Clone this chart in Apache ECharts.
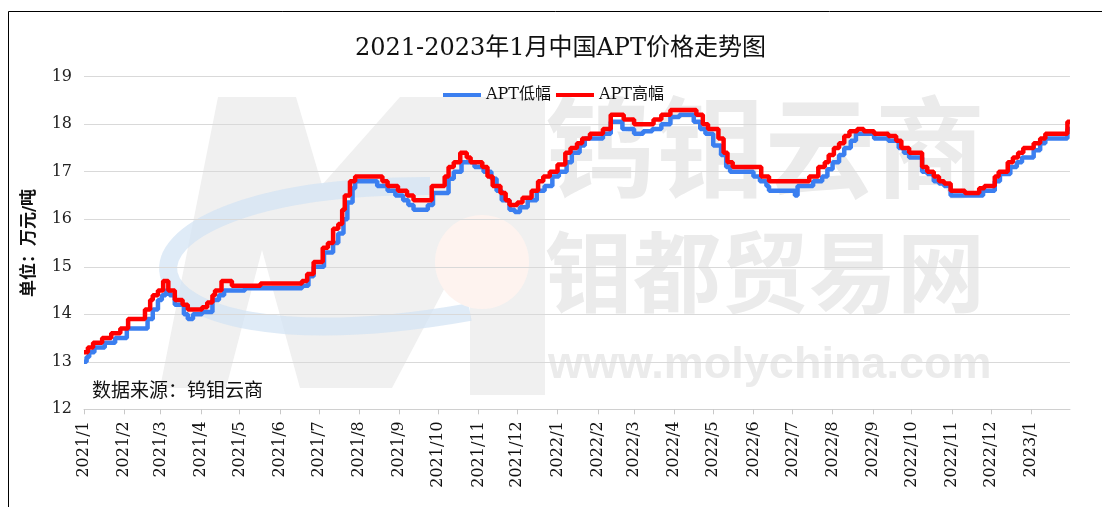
<!DOCTYPE html>
<html><head><meta charset="utf-8">
<script src="https://cdn.jsdelivr.net/npm/echarts@6/dist/echarts.min.js"></script>
<style>html,body{margin:0;padding:0;background:#fff}#c{width:1102px;height:507px}</style>
</head><body><div id="c"></div>
<script>
const chartTitle = '2021-2023年1月中国APT价格走势图';
const seriesNames = ['APT低幅', 'APT高幅'];
const yAxisName = '单位：万元/吨';
const sourceNote = '数据来源：钨钼云商';
const xMin = '2021-01-01';
const xMax = '2023-01-31';
const yMin = 12, yMax = 19, yStep = 1;

const lowDates = ['2021-01-01','2021-01-03','2021-01-05','2021-01-09','2021-01-17','2021-01-25','2021-02-03','2021-02-19','2021-02-23','2021-02-27','2021-03-02','2021-03-05','2021-03-08','2021-03-12','2021-03-19','2021-03-22','2021-03-26','2021-04-02','2021-04-10','2021-04-15','2021-04-19','2021-05-05','2021-06-18','2021-06-23','2021-06-27','2021-07-05','2021-07-12','2021-07-16','2021-07-20','2021-07-23','2021-07-27','2021-07-29','2021-08-15','2021-08-23','2021-08-29','2021-09-04','2021-09-08','2021-09-12','2021-09-23','2021-09-27','2021-10-09','2021-10-13','2021-10-19','2021-10-29','2021-11-05','2021-11-11','2021-11-15','2021-11-19','2021-11-25','2021-11-29','2021-12-03','2021-12-09','2021-12-16','2021-12-22','2021-12-28','2022-01-02','2022-01-08','2022-01-12','2022-01-18','2022-01-22','2022-02-05','2022-02-11','2022-02-20','2022-03-01','2022-03-08','2022-03-15','2022-03-22','2022-03-29','2022-04-05','2022-04-16','2022-04-21','2022-04-25','2022-05-01','2022-05-07','2022-05-11','2022-05-14','2022-06-01','2022-06-06','2022-06-11','2022-06-13','2022-07-03','2022-07-05','2022-07-17','2022-07-24','2022-07-28','2022-08-01','2022-08-06','2022-08-10','2022-08-15','2022-08-19','2022-09-02','2022-09-13','2022-09-21','2022-09-25','2022-09-29','2022-10-09','2022-10-13','2022-10-18','2022-10-22','2022-10-26','2022-10-31','2022-11-25','2022-12-04','2022-12-08','2022-12-16','2022-12-21','2022-12-25','2023-01-03','2023-01-08','2023-01-12','2023-01-29','2023-01-31'];
const lowValues = [13.0,13.1,13.2,13.3,13.4,13.5,13.7,13.9,14.1,14.3,14.4,14.5,14.4,14.2,14.0,13.9,14.0,14.05,14.3,14.4,14.5,14.55,14.6,14.8,15.0,15.3,15.5,15.7,16.0,16.35,16.65,16.8,16.7,16.6,16.5,16.4,16.3,16.2,16.3,16.55,16.85,17.0,17.2,17.1,17.0,16.85,16.6,16.4,16.2,16.15,16.25,16.4,16.6,16.7,16.9,17.0,17.2,17.4,17.55,17.7,17.8,18.05,17.9,17.8,17.85,17.9,18.0,18.15,18.2,18.05,17.9,17.8,17.55,17.35,17.1,17.0,16.9,16.8,16.7,16.6,16.5,16.7,16.8,16.9,17.05,17.2,17.35,17.5,17.65,17.8,17.7,17.65,17.5,17.4,17.3,17.0,16.95,16.8,16.75,16.7,16.5,16.6,16.8,16.95,17.1,17.2,17.3,17.45,17.6,17.7,17.9,17.9];

const highDates = ['2021-01-01','2021-01-04','2021-01-08','2021-01-15','2021-01-22','2021-01-29','2021-02-04','2021-02-17','2021-02-21','2021-02-23','2021-02-27','2021-03-03','2021-03-07','2021-03-12','2021-03-18','2021-03-22','2021-04-02','2021-04-06','2021-04-10','2021-04-12','2021-04-17','2021-04-25','2021-05-17','2021-06-18','2021-06-22','2021-06-27','2021-07-04','2021-07-08','2021-07-12','2021-07-16','2021-07-19','2021-07-21','2021-07-25','2021-07-29','2021-08-19','2021-08-23','2021-08-31','2021-09-07','2021-09-12','2021-09-26','2021-10-06','2021-10-09','2021-10-13','2021-10-18','2021-10-23','2021-10-26','2021-11-04','2021-11-08','2021-11-12','2021-11-18','2021-11-22','2021-11-25','2021-12-01','2021-12-05','2021-12-12','2021-12-17','2021-12-21','2021-12-26','2022-01-01','2022-01-07','2022-01-11','2022-01-16','2022-01-20','2022-01-26','2022-02-05','2022-02-11','2022-02-21','2022-03-01','2022-03-16','2022-03-22','2022-03-29','2022-04-18','2022-04-23','2022-04-27','2022-05-05','2022-05-09','2022-05-12','2022-05-16','2022-06-07','2022-06-13','2022-07-14','2022-07-21','2022-07-26','2022-07-29','2022-08-02','2022-08-06','2022-08-10','2022-08-14','2022-08-20','2022-08-25','2022-09-02','2022-09-13','2022-09-19','2022-09-23','2022-09-29','2022-10-09','2022-10-13','2022-10-18','2022-10-22','2022-10-26','2022-10-31','2022-11-11','2022-11-22','2022-11-26','2022-12-04','2022-12-07','2022-12-14','2022-12-18','2022-12-22','2022-12-26','2023-01-03','2023-01-08','2023-01-12','2023-01-29','2023-01-31'];
const highValues = [13.2,13.3,13.4,13.5,13.6,13.7,13.9,14.1,14.3,14.4,14.5,14.7,14.5,14.3,14.2,14.1,14.15,14.25,14.4,14.5,14.7,14.6,14.65,14.7,14.85,15.1,15.4,15.5,15.8,15.9,16.2,16.5,16.8,16.9,16.8,16.7,16.6,16.5,16.4,16.7,16.9,17.1,17.2,17.4,17.3,17.2,17.1,16.9,16.7,16.55,16.4,16.3,16.35,16.45,16.6,16.8,16.9,17.0,17.15,17.4,17.5,17.6,17.7,17.8,17.9,18.2,18.1,18.0,18.1,18.2,18.3,18.2,18.0,17.9,17.7,17.4,17.2,17.1,16.9,16.8,16.9,17.1,17.2,17.35,17.5,17.6,17.75,17.85,17.9,17.85,17.8,17.75,17.65,17.5,17.4,17.1,17.0,16.9,16.8,16.75,16.6,16.55,16.65,16.7,16.9,17.0,17.2,17.3,17.4,17.5,17.6,17.7,17.8,18.05,18.05];

const pair = (ds, vs) => ds.map((d, i) => [d, vs[i]]);
const SERIF = "'DejaVu Serif','Noto Sans CJK SC',serif";

const chart = echarts.init(document.getElementById('c'), null, {renderer: 'canvas'});
const wmGrey = '#ebebeb';
chart.setOption({
  animation: false,
  backgroundColor: '#fff',
  title: {
    text: chartTitle, left: 350, top: 32,
    textStyle: {fontFamily: SERIF, fontSize: 24, fontWeight: 'normal', color: '#111'}
  },
  legend: {
    data: seriesNames, left: 438, top: 82, itemGap: 5,
    icon: 'rect', itemWidth: 38, itemHeight: 4,
    textStyle: {fontFamily: SERIF, fontSize: 16, color: '#111'}
  },
  grid: {left: 84, right: 32, top: 76.7, bottom: 97.7, containLabel: false},
  xAxis: {
    type: 'time', min: xMin, max: xMax, splitNumber: 25,
    axisLine: {show: true, lineStyle: {color: '#d0d0d0', width: 1}},
    axisTick: {show: true, length: 5, lineStyle: {color: '#c8c8c8'}},
    splitLine: {show: false},
    axisLabel: {
      rotate: 90, margin: 12, fontFamily: SERIF, fontSize: 16, color: '#111',
      hideOverlap: false, showMinLabel: true, showMaxLabel: false,
      formatter: (v) => { const d = new Date(v); return d.getFullYear() + '/' + (d.getMonth() + 1); }
    }
  },
  yAxis: {
    type: 'value', min: yMin, max: yMax, interval: yStep,
    name: yAxisName, nameLocation: 'middle', nameRotate: 90, nameGap: 46,
    nameTextStyle: {fontFamily: SERIF, fontSize: 17, fontWeight: 'bold', color: '#111'},
    axisLine: {show: false}, axisTick: {show: false},
    axisLabel: {margin: 12, fontFamily: SERIF, fontSize: 16, color: '#222'},
    splitLine: {lineStyle: {color: '#d9d9d9', width: 1}}
  },
  graphic: [
    {type: 'polygon', z: -10, silent: true, shape: {points: [[160,388],[218,97],[296,97],[322,185],[400,97],[545,97],[545,395],[470,395],[470,240],[392,388],[300,388],[262,250],[226,388]]}, style: {fill: '#f0f0f0'}},
    {type: 'bezierCurve', z: -9, silent: true, shape: {x1: 430, y1: 186, x2: 470, y2: 312, cpx1: 60, cpy1: 185, cpx2: 90, cpy2: 380}, style: {stroke: 'rgba(210,226,244,0.7)', lineWidth: 18, fill: null}},
    {type: 'circle', z: -9, silent: true, shape: {cx: 482, cy: 262, r: 47}, style: {fill: '#fef3ef'}},
    {type: 'text', z: -8, silent: true, left: 545, top: 92, style: {text: '钨钼云商', font: "bold 110px 'Noto Sans CJK SC'", fill: wmGrey}},
    {type: 'text', z: -8, silent: true, left: 545, top: 228, style: {text: '钼都贸易网', font: "bold 88px 'Noto Sans CJK SC'", fill: wmGrey}},
    {type: 'text', z: -8, silent: true, left: 548, top: 343, style: {text: 'www.molychina.com', font: "bold 45px 'Liberation Sans'", fill: wmGrey}},
    {type: 'text', z: 10, silent: true, left: 92, top: 380, style: {text: sourceNote, font: "19px 'Noto Sans CJK SC'", fill: '#111'}},
    {type: 'rect', z: 10, silent: true, shape: {x: 8.5, y: 11.5, width: 1200, height: 600}, style: {fill: null, stroke: '#000', lineWidth: 1}}
  ],
  series: [
    {name: seriesNames[0], type: 'line', step: 'end', showSymbol: false, symbol: 'none', data: pair(lowDates, lowValues), lineStyle: {color: '#3b7ff0', width: 4.5}, itemStyle: {color: '#3b7ff0'}, z: 3},
    {name: seriesNames[1], type: 'line', step: 'end', showSymbol: false, symbol: 'none', data: pair(highDates, highValues), lineStyle: {color: '#ff0000', width: 4.5}, itemStyle: {color: '#ff0000'}, z: 4}
  ]
});
</script></body></html>
